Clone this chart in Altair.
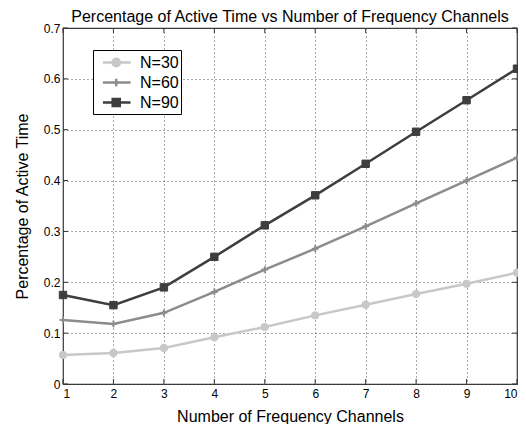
import altair as alt
import pandas as pd

channels = [1, 2, 3, 4, 5, 6, 7, 8, 9, 10]
series_names = ["N=30", "N=60", "N=90"]
n30 = [0.057, 0.061, 0.071, 0.092, 0.112, 0.135, 0.156, 0.177, 0.197, 0.219]
n60 = [0.126, 0.118, 0.140, 0.181, 0.225, 0.266, 0.310, 0.355, 0.400, 0.445]
n90 = [0.175, 0.155, 0.190, 0.250, 0.312, 0.371, 0.433, 0.496, 0.558, 0.620]
y_ticks = [0, 0.1, 0.2, 0.3, 0.4, 0.5, 0.6, 0.7]

colors = ["#c8c8c8", "#8c8c8c", "#3e3e3e"]
marker_shapes = ["circle", "M-1,0H1M0,-1V1", "square"]
# legend symbols: a short line with the series marker on it
legend_paths = [
    "M-0.28,0H2.71M1.16,0m-0.4,0a0.4,0.4,0,1,0,0.8,0a0.4,0.4,0,1,0,-0.8,0Z",
    "M-0.28,0H2.71M1.16,-0.4V0.4",
    "M-0.28,0H2.71M0.78,-0.38H1.54V0.38H0.78Z",
]

rows = []
for name, vals in zip(series_names, [n30, n60, n90]):
    for c, v in zip(channels, vals):
        rows.append({"channels": c, "value": v, "N": name})
df = pd.DataFrame(rows)
xt = pd.DataFrame({"channels": channels})
yt = pd.DataFrame({"value": y_ticks})

W, H = 454, 356
FONT = "Liberation Sans"
GRID = dict(grid=True, gridDash=[1, 3], gridColor="#555555", gridWidth=1,
            gridOpacity=1, domain=False, tickSize=0, labelColor="#000",
            titleColor="#000", labelFont=FONT, titleFont=FONT,
            labelFontSize=12, titleFontSize=16, titleFontWeight="normal")

x_axis = alt.Axis(values=channels, format="d", title="Number of Frequency Channels",
                  titleX=W / 2, titleY=32, titleBaseline="middle", labelPadding=4,
                  **GRID)
y_axis = alt.Axis(values=y_ticks, format=".1~f", title="Percentage of Active Time",
                  titleX=-41, titleY=H / 2, titleBaseline="middle", titleAngle=-90,
                  labelPadding=3, **GRID)
x_scale = alt.Scale(domain=[1, 10], nice=False, zero=False)
y_scale = alt.Scale(domain=[0, 0.7], nice=False)

def xe():
    return alt.X("channels:Q", scale=x_scale, axis=x_axis)

def ye():
    return alt.Y("value:Q", scale=y_scale, axis=y_axis)

def lg():
    return alt.Legend(title=None, labelExpr="datum.label + '  '")

legend_layer = alt.Chart(df).transform_filter("false").mark_point(
    filled=True, strokeWidth=2.5, opacity=1
).encode(
    x=xe(), y=ye(),
    color=alt.Color("N:N", scale=alt.Scale(domain=series_names, range=colors),
                    legend=lg()),
    stroke=alt.Stroke("N:N", scale=alt.Scale(domain=series_names, range=colors),
                      legend=lg()),
    shape=alt.Shape("N:N", scale=alt.Scale(domain=series_names, range=legend_paths),
                    legend=lg()),
)

layers = [legend_layer]
for name, col, mk in zip(series_names, colors, marker_shapes):
    base = alt.Chart(df).transform_filter(alt.datum.N == name)
    line = base.mark_line(color=col, strokeWidth=2.5).encode(x=xe(), y=ye())
    if mk.startswith("M"):
        pt = base.mark_point(shape=mk, filled=False, stroke=col, strokeWidth=2,
                             size=45, opacity=1).encode(x=xe(), y=ye())
    else:
        pt = base.mark_point(shape=mk, filled=True, fill=col, stroke=col,
                             strokeWidth=1, size=55, opacity=1).encode(x=xe(), y=ye())
    layers += [line, pt]

# small inward tick marks on all four sides
TK = "#333333"
layers += [
    alt.Chart(xt).mark_rule(color=TK, strokeWidth=1).encode(
        x=xe(), y=alt.value(H), y2=alt.value(H - 5)),
    alt.Chart(xt).mark_rule(color=TK, strokeWidth=1).encode(
        x=xe(), y=alt.value(0), y2=alt.value(5)),
    alt.Chart(yt).mark_rule(color=TK, strokeWidth=1).encode(
        y=ye(), x=alt.value(0), x2=alt.value(5)),
    alt.Chart(yt).mark_rule(color=TK, strokeWidth=1).encode(
        y=ye(), x=alt.value(W), x2=alt.value(W - 5)),
]

chart = alt.layer(*layers).properties(
    width=W, height=H,
    title=alt.TitleParams(
        "Percentage of Active Time vs Number of Frequency Channels",
        fontSize=16, fontWeight="normal", font=FONT, color="#000", offset=2,
        dy=5, anchor="middle", frame="group",
    ),
    autosize=alt.AutoSizeParams(type="none"),
    padding={"left": 55, "top": 20, "right": 1, "bottom": 40},
).configure_view(
    stroke="#333333", strokeWidth=1.2
).configure_legend(
    orient="none", legendX=30, legendY=22, strokeColor="#000", fillColor="#fff",
    padding=2, labelFontSize=16, labelFont=FONT, labelColor="#000",
    symbolSize=342, symbolStrokeWidth=2.5, rowPadding=0, labelOffset=24,
    symbolOpacity=1,
)

chart.save("out.html", embed_options={"renderer": "svg", "actions": False})
